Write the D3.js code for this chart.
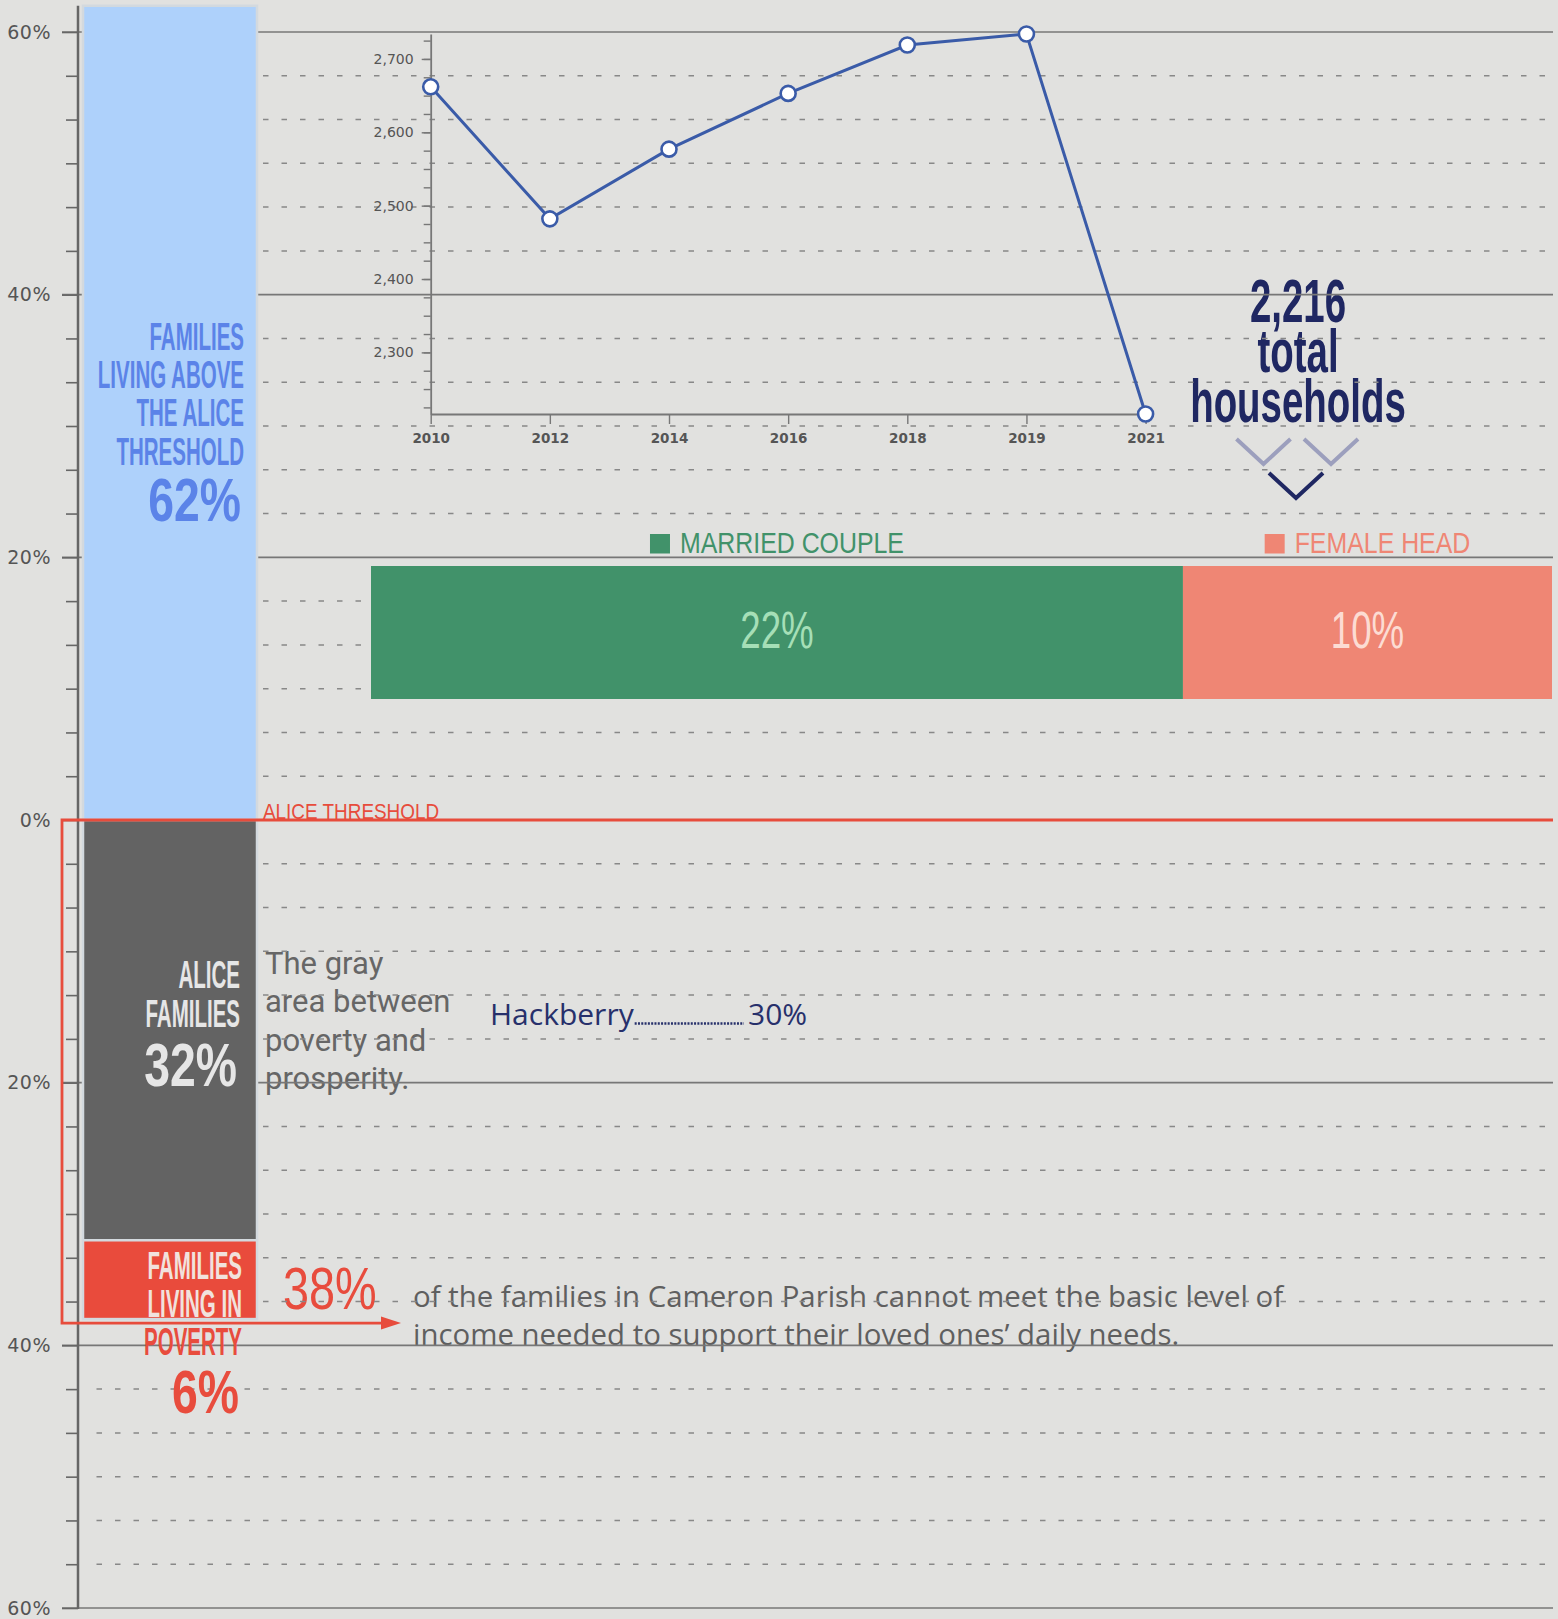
<!DOCTYPE html>
<html>
<head>
<meta charset="utf-8">
<script src="https://cdn.jsdelivr.net/npm/d3@7"></script>
<style>
  html, body { margin: 0; padding: 0; background: #e1e1df; }
  svg { display: block; }
</style>
</head>
<body>
<div id="chart"></div>
<script>
// ---- data ----
const familyGroups = ["Above ALICE Threshold", "ALICE", "Poverty"];
const familyValues = [62, 32, 6];
const familyLabels = [
    ["FAMILIES", "LIVING ABOVE", "THE ALICE", "THRESHOLD"],
    ["ALICE", "FAMILIES"],
    ["FAMILIES", "LIVING IN", "POVERTY"]
];
const pctTicks = [60, 40, 20, 0, -20, -40, -60];

const householdTypes = ["MARRIED COUPLE", "FEMALE HEAD"];
const householdShares = [22, 10];

const years = ["2010", "2012", "2014", "2016", "2018", "2019", "2021"];
const households = [2662, 2482, 2577, 2653, 2719, 2734, 2216];
const householdTicks = [2300, 2400, 2500, 2600, 2700];

const placeName = "Hackberry";
const placeValue = 30;

// ---- setup ----
var width = 1558, height = 1619;
var cond = "'Liberation Sans', Arial, sans-serif";

var svg = d3.select("#chart").append("svg")
    .attr("width", width)
    .attr("height", height);

svg.append("rect").attr("width", width).attr("height", height).attr("fill", "#e1e1df");

var yPct = d3.scaleLinear().domain([60, -60]).range([32, 1608]);
var right = 1553;

// condensed text: a normal font squeezed horizontally
function ctext(parent, x, y, str, size, sx, color, anchor, weight) {
    return parent.append("text")
        .attr("transform", "translate(" + x + "," + y + ") scale(" + sx + ",1)")
        .attr("text-anchor", anchor || "start")
        .style("font-family", cond)
        .style("font-size", size + "px")
        .style("font-weight", weight || "bold")
        .attr("fill", color)
        .text(str);
}

// ---- annotation texts (grid drawn over them) ----
var notes = svg.append("g");
var desc = ["The gray", "area between", "poverty and", "prosperity."];
notes.selectAll("text.desc").data(desc).enter().append("text")
    .attr("class", "desc")
    .attr("x", 265)
    .attr("y", function (d, i) { return 974 + i * 38.3; })
    .style("font-family", "Roboto, sans-serif")
    .style("font-size", "31px")
    .attr("fill", "#666")
    .text(function (d) { return d; });

var belowPct = d3.sum(familyValues.slice(1));
ctext(notes, 283, yPct(-38) - 10, belowPct + "%", 60, 0.78, "#e84c3d", "start", "normal");

var para = ["of the families in Cameron Parish cannot meet the basic level of",
    "income needed to support their loved ones\u2019 daily needs."];
notes.selectAll("text.para").data(para).enter().append("text")
    .attr("class", "para")
    .attr("x", 413)
    .attr("y", function (d, i) { return 1307 + i * 38; })
    .style("font-family", "'Open Sans', sans-serif")
    .style("font-size", "29.4px")
    .attr("fill", "#5f5f5f")
    .text(function (d) { return d; });

var total = households[households.length - 1];
var totalLines = [d3.format(",")(total), "total", "households"];
totalLines.forEach(function (s, i) {
    ctext(notes, 1298, 322 + i * 50, s, 62, 0.62, "#1f2762", "middle", "bold");
});

// ---- gridlines ----
var grid = svg.append("g");
var minorVals = d3.range(-18, 19).filter(function (i) { return i % 6 !== 0; })
    .map(function (i) { return i * 10 / 3; });

grid.selectAll("line.minor").data(minorVals).enter().append("line")
    .attr("x1", 96.5).attr("x2", right)
    .attr("y1", function (d) { return yPct(d); })
    .attr("y2", function (d) { return yPct(d); })
    .attr("stroke", "#888")
    .attr("stroke-width", 1.5)
    .attr("stroke-dasharray", "5.5,13");

grid.selectAll("line.major").data(pctTicks.filter(function (d) { return d !== 0; })).enter().append("line")
    .attr("x1", 62).attr("x2", right)
    .attr("y1", function (d) { return yPct(d); })
    .attr("y2", function (d) { return yPct(d); })
    .attr("stroke", "#777")
    .attr("stroke-width", 1.6);

// ---- left axis ----
var axisG = svg.append("g").attr("transform", "translate(78,0)");
axisG.append("g")
    .call(d3.axisLeft(yPct).tickValues(minorVals).tickSize(12).tickFormat(""))
    .call(function (g) { g.select(".domain").remove(); });
axisG.append("g")
    .call(d3.axisLeft(yPct).tickValues(pctTicks).tickSize(16).tickPadding(11)
        .tickFormat(function (d) { return Math.abs(d) + "%"; }))
    .call(function (g) { g.select(".domain").remove(); });
axisG.selectAll("line").attr("stroke", "#666").attr("stroke-width", 1.6);
axisG.selectAll("text")
    .style("font-family", "'DejaVu Sans', sans-serif")
    .style("font-size", "19px")
    .style("letter-spacing", "0.5px")
    .attr("fill", "#555");
axisG.append("line")
    .attr("x1", 0).attr("x2", 0)
    .attr("y1", yPct(62)).attr("y2", yPct(-60) + 1)
    .attr("stroke", "#666").attr("stroke-width", 2.5);

// ---- family bars ----
var famColors = ["#aed1fb", "#636363", "#e94b3c"];
var stacks = [];
var acc = 0;
familyValues.forEach(function (v, i) {
    if (i === 0) { stacks.push([0, v]); }
    else { stacks.push([-(acc + v), -acc]); acc += v; }
});

svg.append("g").selectAll("rect").data(stacks).enter().append("rect")
    .attr("x", 83)
    .attr("width", 174)
    .attr("y", function (d) { return yPct(d[1]); })
    .attr("height", function (d) { return yPct(d[0]) - yPct(d[1]); })
    .attr("fill", function (d, i) { return famColors[i]; })
    .attr("stroke", "#d3d9de")
    .attr("stroke-width", 2.5);

// labels inside/under family bars
var famLabelLayout = [
    { right: 244, first: 350, step: 38.2, pct: 521, colors: ["#5b83e8"], pctColor: "#5b83e8" },
    { right: 240, first: 988, step: 39, pct: 1086, colors: ["#e6e6e6"], pctColor: "#e6e6e6" },
    { right: 242, first: 1279, step: 38, pct: 1413, colors: ["#f1e2dd", "#f1e2dd", "#e84c3d"], pctColor: "#e84c3d" }
];
familyLabels.forEach(function (lines, k) {
    var L = famLabelLayout[k];
    lines.forEach(function (s, i) {
        var c = L.colors[Math.min(i, L.colors.length - 1)];
        ctext(svg, L.right, L.first + i * L.step, s, 38, 0.54, c, "end", "bold");
    });
    ctext(svg, L.right - 3, L.pct, familyValues[k] + "%", 61, 0.76, L.pctColor, "end", "bold");
});

// ---- household type bar ----
var xHouse = d3.scaleLinear().domain([0, d3.sum(householdShares)]).range([371, 1552]);
var houseColors = ["#41926a", "#ef8674"];
var houseText = ["#a5dfb7", "#fcdcd3"];
var hStack = [];
var hAcc = 0;
householdShares.forEach(function (v) { hStack.push([hAcc, hAcc + v]); hAcc += v; });
var barTop = 566, barBottom = 699;

var hb = svg.append("g");
hb.selectAll("rect").data(hStack).enter().append("rect")
    .attr("x", function (d) { return xHouse(d[0]); })
    .attr("width", function (d) { return xHouse(d[1]) - xHouse(d[0]); })
    .attr("y", barTop)
    .attr("height", barBottom - barTop)
    .attr("fill", function (d, i) { return houseColors[i]; });

var legSx = 0.83;
hStack.forEach(function (d, i) {
    var cx = (xHouse(d[0]) + xHouse(d[1])) / 2;
    ctext(hb, cx, 648, householdShares[i] + "%", 51, 0.72, houseText[i], "middle", "normal");
    // legend centered over the segment
    var lg = hb.append("g");
    var t = ctext(lg, 0, 553, householdTypes[i], 30, legSx, houseColors[i], "start", "normal");
    var tw = t.node().getComputedTextLength() * legSx;
    var total = 20 + 10 + tw;
    var x0 = cx - total / 2;
    lg.append("rect").attr("x", x0).attr("y", 534).attr("width", 20).attr("height", 19.5)
        .attr("fill", houseColors[i]);
    t.attr("transform", "translate(" + (x0 + 30) + ",553) scale(" + legSx + ",1)");
});

// ---- threshold label, place line ----
ctext(svg, 263, 818.5, "ALICE THRESHOLD", 22, 0.86, "#e74c3c", "start", "normal");

var place = svg.append("g");
var pn = place.append("text")
    .attr("x", 490).attr("y", 1025)
    .style("font-family", "'Open Sans', sans-serif")
    .style("font-size", "30px")
    .attr("fill", "#27306b")
    .text(placeName);
var pnEnd = 490 + pn.node().getComputedTextLength();
place.append("line")
    .attr("x1", pnEnd + 1).attr("x2", 744)
    .attr("y1", 1023.5).attr("y2", 1023.5)
    .attr("stroke", "#27306b")
    .attr("stroke-width", 2.5)
    .attr("stroke-dasharray", "2,1.3");
place.append("text")
    .attr("x", 748).attr("y", 1025)
    .style("font-family", "'Open Sans', sans-serif")
    .style("font-size", "30px")
    .attr("fill", "#27306b")
    .text(placeValue + "%");

// ---- red threshold line and bracket arrow ----
var arrowY = yPct(-familyValues[1] - familyValues[2]) + 4;
svg.append("path")
    .attr("d", d3.line()([[right, yPct(0)], [62, yPct(0)], [62, arrowY], [388, arrowY]]))
    .attr("fill", "none")
    .attr("stroke", "#e74c3c")
    .attr("stroke-width", 2.8);
svg.append("path")
    .attr("d", d3.line()([[381, arrowY - 6.5], [401, arrowY], [381, arrowY + 6.5]]) + "Z")
    .attr("fill", "#e74c3c");

// ---- households line chart ----
var xLine = d3.scalePoint().domain(years).range([430.7, 1145.6]);
var yLine = d3.scaleLinear().domain(d3.extent(households)).range([414, 34]);
var lc = svg.append("g");

var minorH = d3.range(2225, 2734, 25);
var yMinor = lc.append("g").attr("transform", "translate(430.7,0)")
    .call(d3.axisLeft(yLine).tickValues(minorH).tickSize(7).tickFormat("").tickSizeOuter(0));
yMinor.select(".domain").remove();
var yAx = lc.append("g").attr("transform", "translate(430.7,0)")
    .call(d3.axisLeft(yLine).tickValues(householdTicks).tickSize(9).tickPadding(8)
        .tickFormat(d3.format(",")).tickSizeOuter(0));
var xAx = lc.append("g").attr("transform", "translate(0,414)")
    .call(d3.axisBottom(xLine).tickSize(10).tickPadding(9).tickSizeOuter(0));

lc.selectAll(".domain").attr("stroke", "#777").attr("stroke-width", 1.8);
lc.selectAll(".tick line").attr("stroke", "#777").attr("stroke-width", 1.4);
yAx.selectAll("text")
    .style("font-family", "'DejaVu Sans', sans-serif")
    .style("font-size", "14px")
    .attr("fill", "#555");
xAx.selectAll("text")
    .style("font-family", "'DejaVu Sans', sans-serif")
    .style("font-size", "13.5px")
    .style("font-weight", "bold")
    .attr("fill", "#555");

var pts = years.map(function (y, i) { return [xLine(y), yLine(households[i])]; });
lc.append("path")
    .attr("d", d3.line()(pts))
    .attr("fill", "none")
    .attr("stroke", "#3a5ba8")
    .attr("stroke-width", 3);
lc.selectAll("circle").data(pts).enter().append("circle")
    .attr("cx", function (d) { return d[0]; })
    .attr("cy", function (d) { return d[1]; })
    .attr("r", 7.5)
    .attr("fill", "#fff")
    .attr("stroke", "#3a5ba8")
    .attr("stroke-width", 2.6);

// ---- chevrons under the total ----
var chev = svg.append("g").attr("fill", "none").attr("stroke-width", 4);
function chevron(cx, top, color) {
    chev.append("path")
        .attr("d", d3.line()([[cx - 27, top], [cx, top + 25], [cx + 27, top]]))
        .attr("stroke", color);
}
chevron(1263.5, 439, "#9c9fbd");
chevron(1331, 439, "#9c9fbd");
chevron(1296, 473, "#1f2762");
</script>
</body>
</html>
